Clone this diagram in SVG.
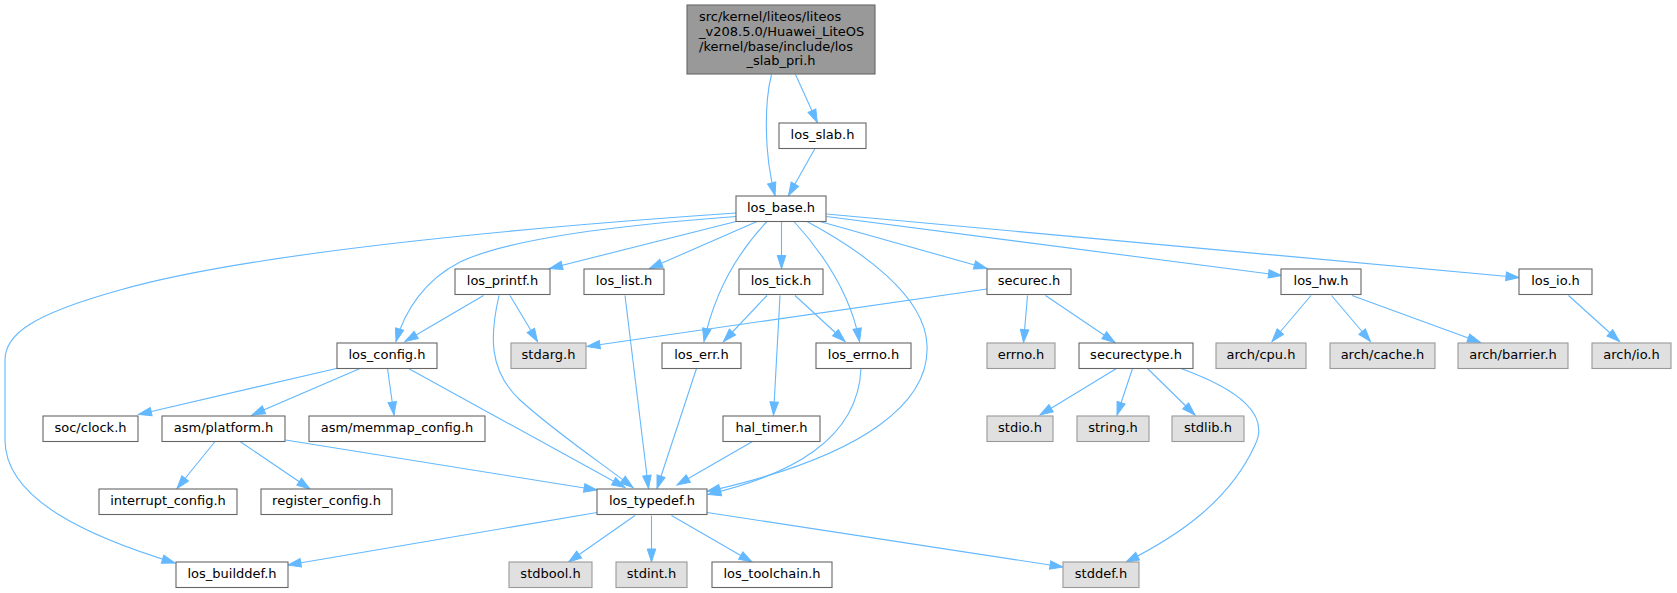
<svg xmlns="http://www.w3.org/2000/svg" width="1677" height="593" viewBox="0 0 1677 593">
<defs>
<marker id="arr" markerUnits="userSpaceOnUse" markerWidth="14" markerHeight="10" refX="13" refY="4.25" orient="auto" viewBox="0 0 14 10" overflow="visible">
<path d="M0,0 L13,4.25 L0,8.5 Z" fill="#63b8ff" stroke="#63b8ff" stroke-width="1"/>
</marker>
</defs>
<style>
.n rect{fill:#ffffff;stroke:#666666;stroke-width:1.1}
.g rect{fill:#e0e0e0;stroke:#999999;stroke-width:1.1}
.m rect{fill:#999999;stroke:#666666;stroke-width:1.1}
text{font-family:"DejaVu Sans","Liberation Sans",sans-serif;font-size:13px;fill:#000000;text-anchor:middle}
text.l{text-anchor:start}
#edges path{fill:none;stroke:#63b8ff;stroke-width:1.1;marker-end:url(#arr)}
</style>
<rect width="1677" height="593" fill="#ffffff"/>
<g id="edges">
<path d="M771.5,74.5 C765,100 763,150 775,195.5"/>
<path d="M795.5,74.5 L817.3,122.5"/>
<path d="M815,148.5 L788.5,195.5"/>
<path d="M738,221 L549.5,268.5"/>
<path d="M757,221.5 L649.5,268.5"/>
<path d="M781.5,221.5 L781.5,268.5"/>
<path d="M767,221.5 C740,250 715,290 704,341.5"/>
<path d="M794,221.5 C820,250 850,290 859.5,341.5"/>
<path d="M807,221.5 C860,250 925,295 927,345 C930,400 870,455 707,491.5"/>
<path d="M820,221.5 L987,268.5"/>
<path d="M826.5,216.5 L1281.5,275.5"/>
<path d="M826.5,214 L1519,277.5"/>
<path d="M736,216.5 C620,225 510,238 460,262 C425,280 405,310 396,341.5"/>
<path d="M736,213 C560,225 260,250 120,290 C30,315 5,335 5,360 L5,440 C5,500 90,537 175,563"/>
<path d="M483.5,295.5 L405,341.5"/>
<path d="M510,295.5 L537.5,341.5"/>
<path d="M499,295.5 C490,335 488,370 520,400 C555,432 600,462 633,487.5"/>
<path d="M625,295.5 L648.5,488.5"/>
<path d="M767,295.5 L723.5,341.5"/>
<path d="M780,295.5 L773.5,415"/>
<path d="M795,295.5 L845,341.5"/>
<path d="M987,289 L587,346.5"/>
<path d="M1027.5,295.5 L1023.5,342.5"/>
<path d="M1045.5,295.5 L1115,342.5"/>
<path d="M1311,295.5 L1272,341.5"/>
<path d="M1331.5,295.5 L1370.5,341.5"/>
<path d="M1352,295.5 L1480.5,342.5"/>
<path d="M1568.5,295.5 L1619.5,341.5"/>
<path d="M338.5,368 L138.5,414.5"/>
<path d="M360,368.5 L252,415"/>
<path d="M387.5,368.5 L394,415"/>
<path d="M408.5,368.5 L625,487.5"/>
<path d="M696.5,368.5 L657,488.5"/>
<path d="M861,368.5 C858,440 790,475 708,494.5"/>
<path d="M1116.5,368.5 L1040,415"/>
<path d="M1132.5,368.5 L1117,415"/>
<path d="M1147.5,368.5 L1195,415"/>
<path d="M1181,368.5 C1240,390 1270,415 1255,445 C1230,500 1180,535 1126,562"/>
<path d="M215,441.5 L177,488.5"/>
<path d="M240,441.5 L310,489"/>
<path d="M285.5,440 L597,490"/>
<path d="M752.5,441.5 L677,485"/>
<path d="M597,512.5 L288,565"/>
<path d="M635,515.5 L568.5,562"/>
<path d="M651.5,515.5 L651.5,562"/>
<path d="M671.5,515.5 L752,562"/>
<path d="M707,512.5 L1063,567"/>
</g>
<g id="los_slab_pri" class="m"><rect x="687" y="5" width="188" height="69"/>
<text class="l" x="699" y="21">src/kernel/liteos/liteos</text>
<text class="l" x="699" y="36">_v208.5.0/Huawei_LiteOS</text>
<text class="l" x="699" y="50.5">/kernel/base/include/los</text>
<text x="781" y="65">_slab_pri.h</text></g>
<g id="los_slab" class="n"><rect x="779" y="123" width="87" height="25.5"/><text x="822.5" y="139">los_slab.h</text></g>
<g id="los_base" class="n"><rect x="736" y="196" width="90" height="25.5"/><text x="781" y="212">los_base.h</text></g>
<g id="los_printf" class="n"><rect x="455" y="269" width="95" height="25.5"/><text x="502.5" y="285">los_printf.h</text></g>
<g id="los_list" class="n"><rect x="584" y="269" width="80" height="25.5"/><text x="624" y="285">los_list.h</text></g>
<g id="los_tick" class="n"><rect x="739" y="269" width="84" height="25.5"/><text x="781" y="285">los_tick.h</text></g>
<g id="securec" class="n"><rect x="987" y="269" width="84" height="25.5"/><text x="1029" y="285">securec.h</text></g>
<g id="los_hw" class="n"><rect x="1281" y="269" width="80" height="25.5"/><text x="1321" y="285">los_hw.h</text></g>
<g id="los_io" class="n"><rect x="1519" y="269" width="73" height="25.5"/><text x="1555.5" y="285">los_io.h</text></g>
<g id="los_config" class="n"><rect x="337" y="343" width="100" height="25.5"/><text x="387" y="359">los_config.h</text></g>
<g id="stdarg" class="g"><rect x="511" y="343" width="75" height="25.5"/><text x="548.5" y="359">stdarg.h</text></g>
<g id="los_err" class="n"><rect x="662" y="343" width="79" height="25.5"/><text x="701.5" y="359">los_err.h</text></g>
<g id="los_errno" class="n"><rect x="816" y="343" width="95" height="25.5"/><text x="863.5" y="359">los_errno.h</text></g>
<g id="errno" class="g"><rect x="987" y="343" width="68" height="25.5"/><text x="1021" y="359">errno.h</text></g>
<g id="securectype" class="n"><rect x="1079" y="343" width="114" height="25.5"/><text x="1136" y="359">securectype.h</text></g>
<g id="arch_cpu" class="g"><rect x="1216" y="343" width="90" height="25.5"/><text x="1261" y="359">arch/cpu.h</text></g>
<g id="arch_cache" class="g"><rect x="1330" y="343" width="105" height="25.5"/><text x="1382.5" y="359">arch/cache.h</text></g>
<g id="arch_barrier" class="g"><rect x="1458" y="343" width="110" height="25.5"/><text x="1513" y="359">arch/barrier.h</text></g>
<g id="arch_io" class="g"><rect x="1592" y="343" width="79" height="25.5"/><text x="1631.5" y="359">arch/io.h</text></g>
<g id="soc_clock" class="n"><rect x="43" y="416" width="95" height="25.5"/><text x="90.5" y="432">soc/clock.h</text></g>
<g id="asm_platform" class="n"><rect x="162" y="416" width="123" height="25.5"/><text x="223.5" y="432">asm/platform.h</text></g>
<g id="asm_memmap_config" class="n"><rect x="309" y="416" width="176" height="25.5"/><text x="397" y="432">asm/memmap_config.h</text></g>
<g id="hal_timer" class="n"><rect x="723" y="416" width="97" height="25.5"/><text x="771.5" y="432">hal_timer.h</text></g>
<g id="stdio" class="g"><rect x="987" y="416" width="66" height="25.5"/><text x="1020" y="432">stdio.h</text></g>
<g id="string" class="g"><rect x="1077" y="416" width="72" height="25.5"/><text x="1113" y="432">string.h</text></g>
<g id="stdlib" class="g"><rect x="1172" y="416" width="72" height="25.5"/><text x="1208" y="432">stdlib.h</text></g>
<g id="interrupt_config" class="n"><rect x="99" y="489" width="138" height="25.5"/><text x="168" y="505">interrupt_config.h</text></g>
<g id="register_config" class="n"><rect x="261" y="489" width="131" height="25.5"/><text x="326.5" y="505">register_config.h</text></g>
<g id="los_typedef" class="n"><rect x="597" y="489" width="110" height="25.5"/><text x="652" y="505">los_typedef.h</text></g>
<g id="los_builddef" class="n"><rect x="176" y="562" width="112" height="25.5"/><text x="232" y="578">los_builddef.h</text></g>
<g id="stdbool" class="g"><rect x="509" y="562" width="83" height="25.5"/><text x="550.5" y="578">stdbool.h</text></g>
<g id="stdint" class="g"><rect x="616" y="562" width="71" height="25.5"/><text x="651.5" y="578">stdint.h</text></g>
<g id="los_toolchain" class="n"><rect x="712" y="562" width="120" height="25.5"/><text x="772" y="578">los_toolchain.h</text></g>
<g id="stddef" class="g"><rect x="1063" y="562" width="76" height="25.5"/><text x="1101" y="578">stddef.h</text></g>
</svg>
